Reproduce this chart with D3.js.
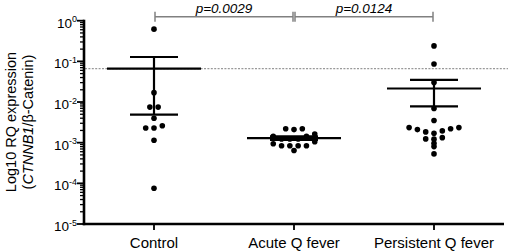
<!DOCTYPE html>
<html>
<head>
<meta charset="utf-8">
<script src="https://cdn.jsdelivr.net/npm/d3@7"></script>
<style>
  body { margin: 0; background: #fff; }
  text { font-family: Arial, "Liberation Sans", sans-serif; fill: #000; }
</style>
</head>
<body>
<svg id="chart" width="510" height="252"></svg>
<script>
// data
var categories = ["Control", "Acute Q fever", "Persistent Q fever"];
var controlValues = [0.62, 0.017, 0.0075, 0.0075, 0.0040, 0.0026, 0.0023, 0.0023, 0.00115, 0.000076];
var acuteValues = [0.0022, 0.0022, 0.0021, 0.00164, 0.00143, 0.00143, 0.00124, 0.00124, 0.00124,
                   0.00105, 0.00094, 0.00084, 0.00084, 0.00084, 0.00084, 0.00064];
var persistentValues = [0.24, 0.086, 0.030, 0.0069, 0.0035, 0.00235, 0.00235, 0.0022, 0.0021, 0.00195,
                        0.00184, 0.0017, 0.00133, 0.00124, 0.00122, 0.00097, 0.0008, 0.00053];
var yTickExponents = [0, -1, -2, -3, -4, -5];
var comparisons = [
  {from: "Control", to: "Acute Q fever", label: "p=0.0029"},
  {from: "Acute Q fever", to: "Persistent Q fever", label: "p=0.0124"}
];

var groups = [controlValues, acuteValues, persistentValues];

var svg = d3.select("#chart");
var plotLeft = 84, plotRight = 504, plotTop = 20.7, plotBottom = 224;

var x = d3.scalePoint().domain(categories).range([plotLeft, plotRight]).padding(0.5);
var y = d3.scaleLog().domain([1e-5, 1]).range([plotBottom, plotTop]);

function sem(v) { return d3.deviation(v) / Math.sqrt(v.length); }

// dotted reference line at control mean
var controlMean = d3.mean(controlValues);
svg.append("line")
  .attr("x1", plotLeft + 1).attr("x2", 508)
  .attr("y1", y(controlMean)).attr("y2", y(controlMean))
  .attr("stroke", "#999").attr("stroke-width", 1.2)
  .attr("stroke-dasharray", "2,1.4");

// y axis
var yAxis = svg.append("g");
var minor = [];
for (var e = -5; e < 0; e++) {
  for (var m = 2; m <= 9; m++) minor.push(m * Math.pow(10, e));
}
yAxis.selectAll(".minor").data(minor).enter().append("line")
  .attr("x1", plotLeft - 4).attr("x2", plotLeft)
  .attr("y1", d => y(d)).attr("y2", d => y(d))
  .attr("stroke", "#000").attr("stroke-width", 1.3);
yAxis.selectAll(".major").data(yTickExponents).enter().append("line")
  .attr("x1", plotLeft - 7).attr("x2", plotLeft)
  .attr("y1", d => y(Math.pow(10, d))).attr("y2", d => y(Math.pow(10, d)))
  .attr("stroke", "#000").attr("stroke-width", 1.8);
yAxis.append("line")
  .attr("x1", plotLeft).attr("x2", plotLeft)
  .attr("y1", plotTop - 1).attr("y2", plotBottom + 1.2)
  .attr("stroke", "#000").attr("stroke-width", 2.6);

var tl = yAxis.selectAll(".tl").data(yTickExponents).enter().append("text")
  .attr("x", 77).attr("y", d => y(Math.pow(10, d)) + 7)
  .attr("text-anchor", "end")
  .style("font-size", "13.5px");
tl.append("tspan").text("10");
tl.append("tspan").attr("dy", -5.5).style("font-size", "9px").text(d => d === 0 ? "0" : "-" + (-d));

// y axis title
var yt = svg.append("g").attr("transform", "translate(16,122) rotate(-90)");
yt.append("text").attr("text-anchor", "middle").style("font-size", "14.5px")
  .text("Log10 RQ expression");
var yt2 = yt.append("text").attr("y", 17).attr("text-anchor", "middle").style("font-size", "14.5px");
yt2.append("tspan").text("(");
yt2.append("tspan").style("font-style", "italic").text("CTNNB1");
yt2.append("tspan").text("/β-Catenin)");

// x axis
var xAxis = svg.append("g");
xAxis.append("line")
  .attr("x1", plotLeft - 1.3).attr("x2", plotRight)
  .attr("y1", plotBottom).attr("y2", plotBottom)
  .attr("stroke", "#000").attr("stroke-width", 2.6);
xAxis.selectAll(".xt").data(categories).enter().append("line")
  .attr("x1", d => x(d)).attr("x2", d => x(d))
  .attr("y1", plotBottom).attr("y2", plotBottom + 6)
  .attr("stroke", "#000").attr("stroke-width", 1.8);
xAxis.selectAll(".xl").data(categories).enter().append("text")
  .attr("x", d => x(d)).attr("y", 248)
  .attr("text-anchor", "middle")
  .style("font-size", "15px")
  .text(d => d);

// beeswarm-ish row layout (GraphPad style)
var step = 8.3;
function swarm(values, cx) {
  var pts = values.map(v => ({v: v, py: y(v)})).sort((a, b) => a.py - b.py);
  var rows = [], cur = null;
  pts.forEach(function(p) {
    if (!cur || p.py - cur[cur.length - 1].py > 3 || p.py - cur[0].py > 6) {
      cur = [];
      rows.push(cur);
    }
    cur.push(p);
  });
  rows.forEach(function(row) {
    var n = row.length;
    var slots = d3.range(n).map(i => (i - (n - 1) / 2) * step)
      .sort((a, b) => Math.abs(a) - Math.abs(b) || a - b);
    row.slice().sort((a, b) => b.py - a.py).forEach(function(p, i) {
      p.px = cx + slots[i];
    });
  });
  return pts;
}

groups.forEach(function(vals, gi) {
  var cx = x(categories[gi]);
  var g = svg.append("g");
  g.selectAll("circle").data(swarm(vals, cx)).enter().append("circle")
    .attr("cx", d => d.px).attr("cy", d => d.py).attr("r", 2.8)
    .attr("fill", "#000");

  var mean = d3.mean(vals), s = sem(vals);
  g.append("line")
    .attr("x1", cx - 47).attr("x2", cx + 47)
    .attr("y1", y(mean)).attr("y2", y(mean))
    .attr("stroke", "#000").attr("stroke-width", 2.2);
  [mean + s, mean - s].forEach(function(v) {
    g.append("line")
      .attr("x1", cx - 24).attr("x2", cx + 24)
      .attr("y1", y(v)).attr("y2", y(v))
      .attr("stroke", "#000").attr("stroke-width", 2.2);
  });
  g.append("line")
    .attr("x1", cx).attr("x2", cx)
    .attr("y1", y(mean + s)).attr("y2", y(mean - s))
    .attr("stroke", "#000").attr("stroke-width", 2.2);
});

// significance brackets
var by = 16.7;
comparisons.forEach(function(c) {
  var x1 = x(c.from) + 1, x2 = x(c.to) - 1;
  var g = svg.append("g").attr("stroke", "#808080").attr("stroke-width", 1.5);
  g.append("line").attr("x1", x1).attr("x2", x2).attr("y1", by).attr("y2", by);
  g.append("line").attr("x1", x1).attr("x2", x1).attr("y1", by - 5).attr("y2", by + 5);
  g.append("line").attr("x1", x2).attr("x2", x2).attr("y1", by - 5).attr("y2", by + 5);
  svg.append("text")
    .attr("x", (x1 + x2) / 2).attr("y", 13)
    .attr("text-anchor", "middle")
    .style("font-size", "13.5px").style("font-style", "italic")
    .text(c.label);
});
</script>
</body>
</html>
